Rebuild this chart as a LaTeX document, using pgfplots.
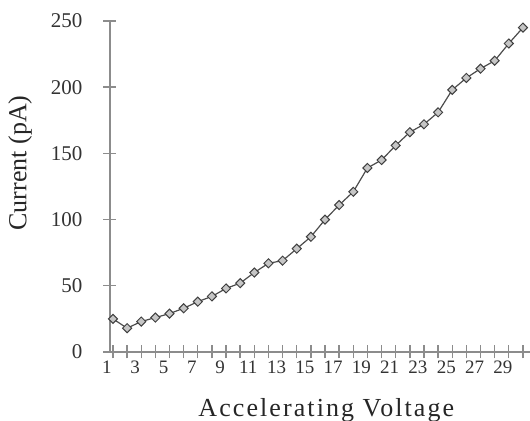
\documentclass[border=0pt]{standalone}
\usepackage{fontspec}
\setmainfont{Liberation Serif}
\usepackage{pgfplots}
\pgfplotsset{compat=1.18}

\begin{document}
\begin{tikzpicture}
\begin{axis}[
    scale only axis,
    width=210pt, height=165.5pt,
    xmin=0.79, xmax=30.5,
    ymin=0, ymax=250,
    axis x line=bottom, axis y line=left,
    axis line style={black!45, line width=0.7pt, -},
    every tick/.style={black!45, line width=0.7pt},
    tick align=center,
    major tick length=6.5pt,
    xtick={1,...,30},
    xticklabels={1,,3,,5,,7,,9,,11,,13,,15,,17,,19,,21,,23,,25,,27,,29,},
    ytick={0,50,100,150,200,250},
    /pgf/number format/assume math mode=true,
    xticklabel style={font=\fontsize{9.5}{10}\selectfont, text=black!80, xshift=-3pt, inner sep=1pt},
    yticklabel style={font=\fontsize{10.5}{11}\selectfont, text=black!80, xshift=-7pt},
    xlabel={Accelerating Voltage},
    ylabel={Current (pA)},
    xlabel style={at={(axis description cs:0.515,0)}, anchor=north, yshift=-23pt, inner sep=0pt,
        font=\fontsize{13}{14}\selectfont\addfontfeature{LetterSpace=8}, text=black!85},
    ylabel style={at={(axis description cs:-0.214,0.571)}, anchor=center, inner sep=0pt,
        font=\fontsize{13}{14}\selectfont, text=black!85},
    clip=false,
]
\addplot[black!70, line width=0.6pt, mark=square*, mark size=1.6pt,
    mark options={rotate=45, fill=gray!45, draw=black!75, line width=0.5pt}]
coordinates {
    (1,25) (2,18) (3,23) (4,26) (5,29) (6,33) (7,38) (8,42) (9,48) (10,52)
    (11,60) (12,67) (13,69) (14,78) (15,87) (16,100) (17,111) (18,121) (19,139) (20,145)
    (21,156) (22,166) (23,172) (24,181) (25,198) (26,207) (27,214) (28,220) (29,233) (30,245)
};
\end{axis}
\pgfresetboundingbox
\path[use as bounding box] ([xshift=-55pt,yshift=-34.5pt]current axis.south west) rectangle ([yshift=10.5pt]current axis.north east);
\end{tikzpicture}
\end{document}
